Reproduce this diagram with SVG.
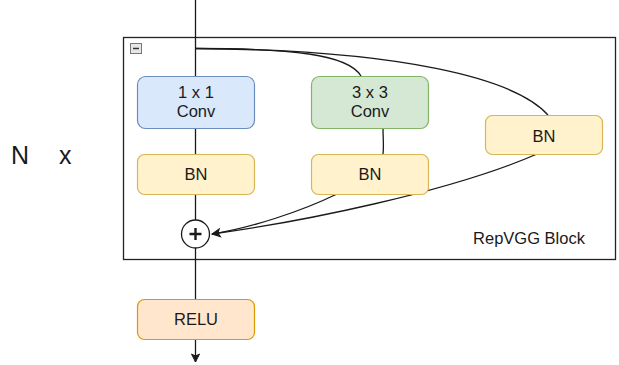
<svg xmlns="http://www.w3.org/2000/svg" width="619" height="365" viewBox="0 0 619 365">
  <style>
    .lbl { font-family: "Liberation Sans", Arial, sans-serif; font-size: 16.5px; fill: #1a1a1a; text-anchor: middle; }
    .big { font-family: "Liberation Sans", Arial, sans-serif; font-size: 25px; fill: #1a1a1a; }
    .edge { fill: none; stroke: #1a1a1a; stroke-width: 1.3; }
    .blue { fill: #dae8fc; stroke: #6c8ebf; stroke-width: 1.2; }
    .green { fill: #d5e8d4; stroke: #82b366; stroke-width: 1.2; }
    .yellow { fill: #fff2cc; stroke: #d6b656; stroke-width: 1.2; }
    .orange { fill: #ffe6cc; stroke: #d79b00; stroke-width: 1.2; }
  </style>
  <defs>
    <marker id="arrow" markerWidth="10" markerHeight="10" refX="9" refY="5" orient="auto" markerUnits="userSpaceOnUse">
      <path d="M1,1 L9,5 L1,9 L3,5 Z" fill="#1a1a1a" stroke="#1a1a1a" stroke-width="1"/>
    </marker>
  </defs>
  <rect width="619" height="365" fill="#ffffff"/>

  <!-- repeat label -->
  <g id="repeat">
    <text x="11" y="164" class="big">N</text>
    <text x="59" y="164" class="big">x</text>
  </g>

  <!-- container block -->
  <g id="block">
    <rect x="123.5" y="37.5" width="492" height="222" fill="none" stroke="#222" stroke-width="1.3"/>
    <rect x="130.5" y="43.5" width="11" height="10" fill="#e6e6e6" stroke="#777" stroke-width="1"/>
    <line x1="133" y1="48.5" x2="139" y2="48.5" stroke="#333" stroke-width="1.5"/>
    <text x="529" y="244" class="lbl">RepVGG Block</text>
  </g>

  <!-- connectors -->
  <g id="connectors">
    <path class="edge" d="M195.5,0 V76"/>
    <path class="edge" d="M195.5,128 V154"/>
    <path class="edge" d="M195.5,194 V220"/>
    <path class="edge" d="M195.5,248 V299"/>
    <path class="edge" d="M195.5,339 V362" marker-end="url(#arrow)"/>
    <path class="edge" d="M195.5,48.5 C290,48.5 348,54 361,76"/>
    <path class="edge" d="M195.5,48.5 C400,50 515,78 548,115"/>
    <path class="edge" d="M383,128 C383,138 384,146 383,154"/>
    <path class="edge" d="M337,194 C300,212 250,228 212,234" marker-end="url(#arrow)"/>
    <path class="edge" d="M537,154 C450,192 300,222 212,234"/>
  </g>

  <g id="conv1x1">
    <rect class="blue" x="137.5" y="76.5" width="117" height="52" rx="8"/>
    <text x="196" y="98" class="lbl">1 x 1</text>
    <text x="196" y="117" class="lbl">Conv</text>
  </g>
  <g id="conv3x3">
    <rect class="green" x="311.5" y="76.5" width="117" height="52" rx="8"/>
    <text x="370" y="98" class="lbl">3 x 3</text>
    <text x="370" y="117" class="lbl">Conv</text>
  </g>
  <g id="bn-identity">
    <rect class="yellow" x="485.5" y="115.5" width="117" height="39" rx="7"/>
    <text x="544" y="142" class="lbl">BN</text>
  </g>
  <g id="bn-1x1">
    <rect class="yellow" x="137.5" y="154.5" width="117" height="40" rx="7"/>
    <text x="196" y="180" class="lbl">BN</text>
  </g>
  <g id="bn-3x3">
    <rect class="yellow" x="311.5" y="154.5" width="117" height="40" rx="7"/>
    <text x="370" y="180" class="lbl">BN</text>
  </g>
  <g id="add">
    <circle cx="195.5" cy="234" r="14" fill="#ffffff" stroke="#1a1a1a" stroke-width="1.3"/>
    <path d="M189.5,234 H201.5 M195.5,228 V240" stroke="#1a1a1a" stroke-width="2.4"/>
  </g>
  <g id="relu">
    <rect class="orange" x="137.5" y="299.5" width="117" height="40" rx="7"/>
    <text x="196" y="325" class="lbl">RELU</text>
  </g>
</svg>
